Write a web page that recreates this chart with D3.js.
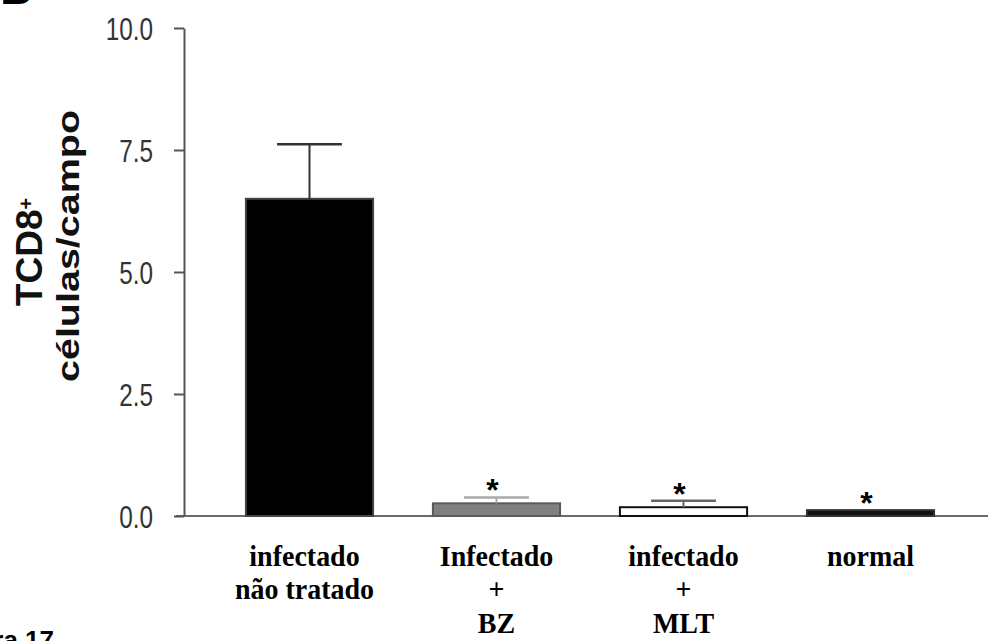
<!DOCTYPE html>
<html>
<head>
<meta charset="utf-8">
<script src="https://cdn.jsdelivr.net/npm/d3@7"></script>
<style>
  html, body { margin: 0; padding: 0; background: #fff; }
  svg { display: block; }
</style>
</head>
<body>
<svg id="chart" width="988" height="641"></svg>
<script>
// Group labels, one entry of text lines per bar
const categories = [
  ["infectado", "não tratado"],
  ["Infectado", "+", "BZ"],
  ["infectado", "+", "MLT"],
  ["normal"]
];
// Mean TCD8+ cells per field and the error (upper bar only)
const means = [6.5, 0.26, 0.18, 0.12];
const errors = [1.12, 0.12, 0.13, 0];
// Significance marks above each group
const marks = ["", "*", "*", "*"];
// Y axis ticks
const yTicks = [0, 2.5, 5, 7.5, 10];

// Appearance of each bar (fill, outline, error-bar colour)
const barLook = [
  { fill: "#000", stroke: "#444", err: "#333" },
  { fill: "#808080", stroke: "#5a5a5a", err: "#a8a8a8" },
  { fill: "#fff", stroke: "#111", err: "#666" },
  { fill: "#111", stroke: "#333", err: "#333" }
];

const svg = d3.select("#chart");

const y = d3.scaleLinear().domain([0, 10]).range([516, 28]);
const x = d3.scaleBand()
  .domain(d3.range(categories.length))
  .range([216, 964])
  .paddingInner(0.32)
  .paddingOuter(0.16);

// Baseline across the plot
svg.append("line")
  .attr("x1", 176).attr("x2", 988)
  .attr("y1", y(0)).attr("y2", y(0))
  .attr("stroke", "#6a6a6a").attr("stroke-width", 2.2);

// Y axis
const yAxis = d3.axisLeft(y)
  .tickValues(yTicks)
  .tickFormat(d3.format(".1f"))
  .tickSize(10)
  .tickSizeOuter(0);

const gy = svg.append("g")
  .attr("transform", "translate(184,0)")
  .call(yAxis);
gy.select(".domain").attr("stroke", "#555").attr("stroke-width", 2);
gy.selectAll(".tick line").attr("stroke", "#555").attr("stroke-width", 2);
gy.selectAll(".tick text")
  .attr("x", 0)
  .attr("dy", "0.36em")
  .attr("transform", "translate(-31,0) scale(0.76,1)")
  .attr("fill", "#333")
  .style("font-family", "'Liberation Sans', Arial, sans-serif")
  .style("font-size", "32px");

// Bars
const bars = svg.append("g");
bars.selectAll("rect")
  .data(means)
  .join("rect")
  .attr("x", (d, i) => x(i))
  .attr("y", d => y(d))
  .attr("width", x.bandwidth())
  .attr("height", d => y(0) - y(d))
  .attr("fill", (d, i) => barLook[i].fill)
  .attr("stroke", (d, i) => barLook[i].stroke)
  .attr("stroke-width", 2);

// Error bars (upper half)
const capW = x.bandwidth() * 0.51;
const eg = svg.append("g");
means.forEach((m, i) => {
  if (!errors[i]) return;
  const cx = x(i) + x.bandwidth() / 2;
  eg.append("line")
    .attr("x1", cx).attr("x2", cx)
    .attr("y1", y(m)).attr("y2", y(m + errors[i]))
    .attr("stroke", barLook[i].err).attr("stroke-width", 2);
  eg.append("line")
    .attr("x1", cx - capW / 2).attr("x2", cx + capW / 2)
    .attr("y1", y(m + errors[i])).attr("y2", y(m + errors[i]))
    .attr("stroke", barLook[i].err).attr("stroke-width", 2.5);
});

// Significance asterisks
svg.append("g").selectAll("text")
  .data(marks)
  .join("text")
  .attr("x", (d, i) => x(i) + x.bandwidth() / 2 - 4)
  .attr("y", (d, i) => y(means[i] + errors[i]) + 4)
  .attr("text-anchor", "middle")
  .style("font-family", "'Liberation Sans', Arial, sans-serif")
  .style("font-weight", "bold")
  .style("font-size", "32px")
  .text(d => d);

// Category labels
const lab = svg.append("g")
  .style("font-family", "'Liberation Serif', 'Times New Roman', serif")
  .style("font-weight", "bold")
  .style("font-size", "28px")
  .attr("fill", "#000");
categories.forEach((lines, i) => {
  const t = lab.append("text")
    .attr("text-anchor", "middle")
    .attr("transform", `translate(${x(i) + x.bandwidth() / 2 - (i === 0 ? 5 : 0)},566) scale(1,1.08)`);
  lines.forEach((ln, k) => {
    t.append("tspan")
      .attr("x", 0)
      .attr("y", k * 31)
      .text(ln);
  });
});

// Y axis title (two lines, rotated)
const title = svg.append("g")
  .style("font-family", "'Liberation Sans', Arial, sans-serif")
  .style("font-weight", "bold")
  .attr("fill", "#111");
const t1 = title.append("text")
  .attr("transform", "translate(42,252) rotate(-90)")
  .attr("text-anchor", "middle")
  .style("font-size", "37px");
t1.append("tspan").text("TCD8");
t1.append("tspan").attr("dy", "-0.45em").style("font-size", "20px").text("+");
title.append("text")
  .attr("transform", "translate(79,246) rotate(-90)")
  .attr("text-anchor", "middle")
  .attr("textLength", 272)
  .attr("lengthAdjust", "spacingAndGlyphs")
  .style("font-size", "32px")
  .text("células/campo");

// Panel letter and figure caption at the page edges
svg.append("text")
  .attr("x", 32).attr("y", 4)
  .attr("text-anchor", "end")
  .style("font-family", "'Liberation Sans', Arial, sans-serif")
  .style("font-weight", "bold")
  .style("font-size", "44px")
  .text("B");
svg.append("text")
  .attr("x", 54).attr("y", 649)
  .attr("text-anchor", "end")
  .style("font-family", "'Liberation Sans', Arial, sans-serif")
  .style("font-weight", "bold")
  .style("font-size", "26px")
  .text("Figura 17");
</script>
</body>
</html>
